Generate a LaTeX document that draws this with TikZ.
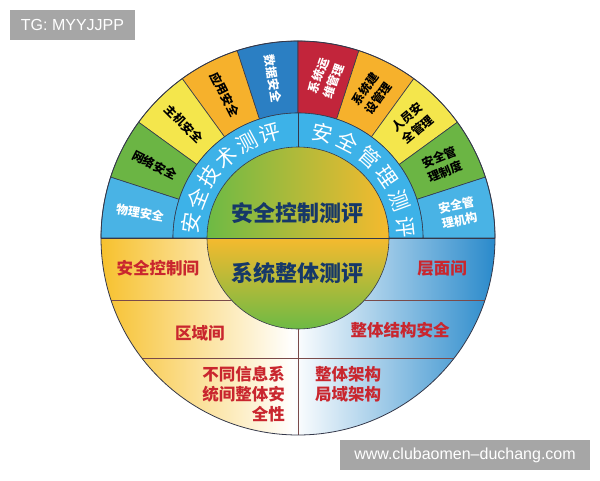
\documentclass[tikz,border=0pt]{standalone}
\usepackage{fontspec}
\usetikzlibrary{positioning,calc}
\setmainfont{Liberation Sans}
\newfontfamily\cjk{Noto Sans CJK SC}
\definecolor{DataBlue}{HTML}{2B7FC3}
\definecolor{AppOrange}{HTML}{F6B12C}
\definecolor{HostYellow}{HTML}{F4E64C}
\definecolor{NetGreen}{HTML}{6BB544}
\definecolor{PhysBlue}{HTML}{49B3E5}
\definecolor{OpsRed}{HTML}{C2253B}
\definecolor{BandBlue}{HTML}{3DB2E8}
\definecolor{CoreNavy}{HTML}{163868}
\definecolor{CoreGreen}{HTML}{6DBA45}
\definecolor{CoreOrange}{HTML}{F5BA2E}
\definecolor{CoreMist}{HTML}{D6EEF2}
\definecolor{LowRed}{HTML}{C9262E}
\definecolor{LowYellow}{HTML}{F7C12E}
\definecolor{LowBlue}{HTML}{2A8ACB}
\definecolor{LowLine}{HTML}{7A4A4A}
\definecolor{EdgeGray}{HTML}{34384A}
\definecolor{TagGray}{HTML}{A6A6A6}
\tikzstyle{Sector} = [draw=EdgeGray, line width=0.6pt]
\tikzstyle{SecLabel} = [font=\cjk\bfseries\fontsize{12}{16}\selectfont, align=center, inner sep=0pt]
\tikzstyle{BandChar} = [font=\cjk\fontsize{21}{21}\selectfont, text=white, inner sep=0pt]
\tikzstyle{CoreLabel} = [font=\cjk\bfseries\fontsize{22}{22}\selectfont, text=CoreNavy, inner sep=0pt]
\tikzstyle{RingLabel} = [font=\cjk\bfseries\fontsize{16.5}{20}\selectfont, text=LowRed, inner sep=0pt]
\tikzstyle{Tag} = [fill=TagGray, text=white, font=\fontsize{16}{16}\selectfont, minimum height=30pt, inner sep=0pt]

\begin{document}
\begin{tikzpicture}[x=1pt,y=1pt]
        \useasboundingbox (-298,-242) rectangle (302,238);

        %%%%% Lower Half %%%%%

        \begin{scope}
        \clip (-197,0) arc[start angle=180, end angle=360, radius=197pt] -- cycle;
        \shade[left color=LowYellow, right color=white] (-197,0) rectangle (-5,-197);
        \shade[left color=white, right color=LowBlue] (-5,0) rectangle (197,-197);
        \end{scope}

        %%%%% Outer Sectors %%%%%

        \filldraw[Sector, fill=DataBlue] (108:125) -- (108:197) arc[start angle=108, end angle=90, radius=197pt] -- (90:125) arc[start angle=90, end angle=108, radius=125pt] -- cycle;
        \filldraw[Sector, fill=AppOrange] (126:125) -- (126:197) arc[start angle=126, end angle=108, radius=197pt] -- (108:125) arc[start angle=108, end angle=126, radius=125pt] -- cycle;
        \filldraw[Sector, fill=HostYellow] (144:125) -- (144:197) arc[start angle=144, end angle=126, radius=197pt] -- (126:125) arc[start angle=126, end angle=144, radius=125pt] -- cycle;
        \filldraw[Sector, fill=NetGreen] (162:125) -- (162:197) arc[start angle=162, end angle=144, radius=197pt] -- (144:125) arc[start angle=144, end angle=162, radius=125pt] -- cycle;
        \filldraw[Sector, fill=PhysBlue] (180:125) -- (180:197) arc[start angle=180, end angle=162, radius=197pt] -- (162:125) arc[start angle=162, end angle=180, radius=125pt] -- cycle;
        \filldraw[Sector, fill=OpsRed] (90:125) -- (90:197) arc[start angle=90, end angle=72, radius=197pt] -- (72:125) arc[start angle=72, end angle=90, radius=125pt] -- cycle;
        \filldraw[Sector, fill=AppOrange] (72:125) -- (72:197) arc[start angle=72, end angle=54, radius=197pt] -- (54:125) arc[start angle=54, end angle=72, radius=125pt] -- cycle;
        \filldraw[Sector, fill=HostYellow] (54:125) -- (54:197) arc[start angle=54, end angle=36, radius=197pt] -- (36:125) arc[start angle=36, end angle=54, radius=125pt] -- cycle;
        \filldraw[Sector, fill=NetGreen] (36:125) -- (36:197) arc[start angle=36, end angle=18, radius=197pt] -- (18:125) arc[start angle=18, end angle=36, radius=125pt] -- cycle;
        \filldraw[Sector, fill=PhysBlue] (18:125) -- (18:197) arc[start angle=18, end angle=0, radius=197pt] -- (0:125) arc[start angle=0, end angle=18, radius=125pt] -- cycle;

        %%%%% Band and Core %%%%%

        \filldraw[Sector, fill=BandBlue] (-125,0) arc[start angle=180, end angle=0, radius=125pt] -- cycle;
        \begin{scope}
        \clip (-91,0) arc[start angle=180, end angle=0, radius=91pt] -- cycle;
        \shade[left color=CoreGreen, middle color=CoreMist, right color=CoreOrange] (-91,0) rectangle (91,91);
        \end{scope}
        \begin{scope}
        \clip (-91,0) arc[start angle=180, end angle=360, radius=91pt] -- cycle;
        \shade[top color=CoreOrange, middle color=white, bottom color=CoreGreen] (-91,0) rectangle (91,-91);
        \end{scope}

        %%%%% Lines %%%%%

        \draw[EdgeGray, line width=0.6pt] (0,0) circle[radius=91pt];
        \draw[EdgeGray, line width=0.6pt] (90:91) -- (90:125);
        \draw[EdgeGray, line width=0.8pt] (-197,0) -- (197,0);
        \draw[LowLine, line width=0.6pt] (-186.9,-62) -- (-66.6,-62);
        \draw[LowLine, line width=0.6pt] (66.6,-62) -- (186.9,-62);
        \draw[LowLine, line width=0.6pt] (-155.8,-120) -- (155.8,-120);
        \draw[LowLine, line width=0.6pt] (0,-91) -- (0,-197);
        \draw[EdgeGray, line width=0.8pt] (0,0) circle[radius=197pt];

        %%%%% Sector Labels %%%%%

        \node[SecLabel, text=white, rotate=-81] (data) at (99:161) {数据安全};
        \node[SecLabel, rotate=-63] (app) at (117:161) {应用安全};
        \node[SecLabel, rotate=-45] (host) at (135:161) {主机安全};
        \node[SecLabel, rotate=-27] (net) at (153:161) {网络安全};
        \node[SecLabel, text=white, rotate=-9] (phys) at (171:160) {物理安全};
        \node[SecLabel, text=white, rotate=70] (ops) at (80:162) {系统运\\维管理};
        \node[SecLabel, rotate=54] (build) at (63:162) {系统建\\设管理};
        \node[SecLabel, rotate=40] (staff) at (45:162) {人员安\\全管理};
        \node[SecLabel, rotate=22] (rule) at (27:162) {安全管\\理制度};
        \node[SecLabel, text=white, rotate=12] (org) at (9:162) {安全管\\理机构};

        %%%%% Band Labels %%%%%

        \node[BandChar, rotate=82] (t1) at (172:108) {安};
        \node[BandChar, rotate=68.6] (t2) at (158.6:108) {全};
        \node[BandChar, rotate=55.2] (t3) at (145.2:108) {技};
        \node[BandChar, rotate=41.8] (t4) at (131.8:108) {术};
        \node[BandChar, rotate=28.4] (t5) at (118.4:108) {测};
        \node[BandChar, rotate=15] (t6) at (105:108) {评};
        \node[BandChar, rotate=-13] (m1) at (77:108) {安};
        \node[BandChar, rotate=-27.2] (m2) at (62.8:108) {全};
        \node[BandChar, rotate=-41.4] (m3) at (48.6:108) {管};
        \node[BandChar, rotate=-55.6] (m4) at (34.4:108) {理};
        \node[BandChar, rotate=-69.8] (m5) at (20.2:108) {测};
        \node[BandChar, rotate=-84] (m6) at (6:108) {评};

        %%%%% Core and Lower Labels %%%%%

        \node[CoreLabel] (ctrl) at (0,25) {安全控制测评};
        \node[CoreLabel] (whole) at (0,-35) {系统整体测评};
        \node[RingLabel] (between) at (-140,-30) {安全控制间};
        \node[RingLabel] (zone) at (-98,-95) {区域间};
        \node[RingLabel, align=right, anchor=north east] (sys) at (-13,-128) {不同信息系\\统间整体安\\全性};
        \node[RingLabel] (layer) at (144,-30) {层面间};
        \node[RingLabel] (struct) at (102,-92) {整体结构安全};
        \node[RingLabel, align=left, anchor=north west] (arch) at (17,-128) {整体架构\\局域架构};

        %%%%% Tags %%%%%

        \node[Tag, minimum width=125pt] (tg) at (-225.5,213.5) {TG: MYYJJPP};
        \node[Tag, minimum width=250pt] (web) at (167,-217) {www.clubaomen\textendash duchang.com};

\end{tikzpicture}
\end{document}
